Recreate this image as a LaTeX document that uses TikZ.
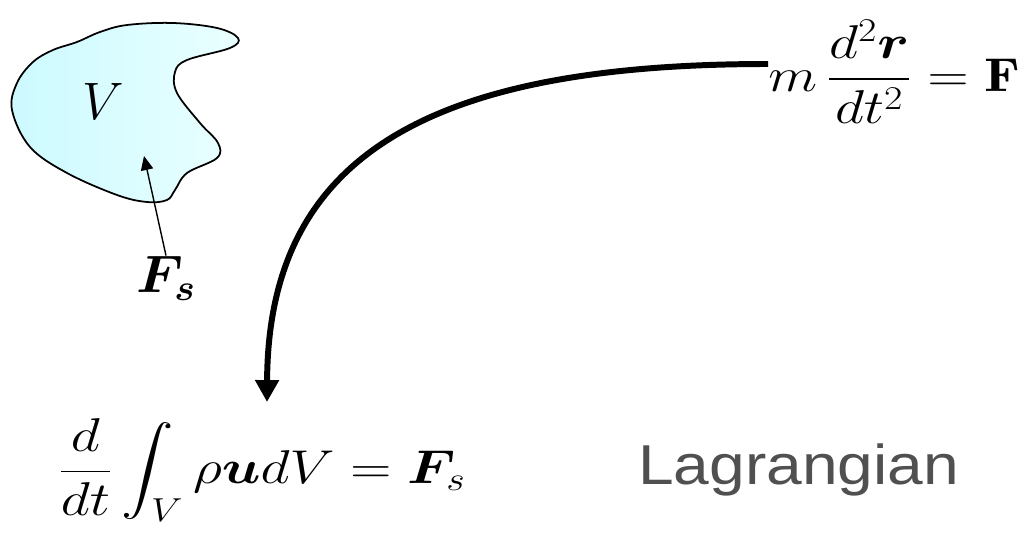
\RequirePackage{fix-cm}
\documentclass[tikz,border=0pt]{standalone}
\usepackage{amsmath}
\usepackage{bm}
\usepackage{graphicx}
\usepackage{fontspec}
\newfontfamily\labelfont{Liberation Sans}
\usepackage{tikz}
\usetikzlibrary{arrows.meta}
\definecolor{blobcyan}{RGB}{204, 250, 255}
\definecolor{blobpale}{RGB}{234, 255, 255}
\definecolor{labelgray}{RGB}{80, 80, 80}
\newcommand{\xwide}[2][1.2]{\scalebox{#1}[1]{#2}}

\begin{document}
\begin{tikzpicture}[
    x=0.02cm, y=-0.02cm,
    mathlabel/.style={inner sep=0pt, font=\fontsize{30}{36}\selectfont},
    eqn/.style={inner sep=0pt, anchor=west, font=\fontsize{27}{32}\selectfont},
  ]
    \useasboundingbox (0,0) rectangle (1024,533);

    % Control volume (top left)
    \draw[line width=1pt, left color=blobcyan, right color=blobpale]
      plot[smooth cycle, tension=0.6] coordinates {
        (100,32) (127,25) (173,23) (217,28) (238,38) (230,48) (187,60)
        (175,72) (177,93) (200,123) (218,143) (217,158) (187,173)
        (175,190) (167,200) (147,202) (117,195) (67,173) (30,147)
        (12,110) (17,83) (33,62) (53,50) (77,42)};
    \node[mathlabel] (vol) at (103,101) {$V$};
    \node[mathlabel] (surfF) at (166,278) {\xwide[1.05]{$\bm{F_s}$}};
    \coordinate (surfTip) at (144,156);
    \draw[-{Triangle[length=8pt, width=7pt]}, line width=0.8pt]
      (surfF.north) -- (surfTip);

    % Newton's law (top right) and integral form (bottom left)
    \node[eqn] (newton) at (768,72)
      {\xwide{$\displaystyle m\,\frac{d^2\bm{r}}{dt^2}=\mathbf{F}$}};
    \node[eqn] (integral) at (58,470)
      {\xwide{$\displaystyle \frac{d}{dt}\int_V \rho\bm{u}dV=\bm{F}_s$}};
    \node[inner sep=0pt, anchor=west, text=labelgray,
          font=\labelfont\fontsize{32}{38}\selectfont] (lagr) at (638,470)
      {\xwide[1.14]{Lagrangian}};

    % Thick curved arrow from Newton's law down to the integral form
    \coordinate (arrowTip) at (267,402);
    \draw[-{Triangle[length=12.5pt, width=13pt]}, line width=3.4pt]
      ([yshift=0.16cm]newton.west) .. controls (430,64) and (268,155) .. (arrowTip);
  \end{tikzpicture}
\end{document}
